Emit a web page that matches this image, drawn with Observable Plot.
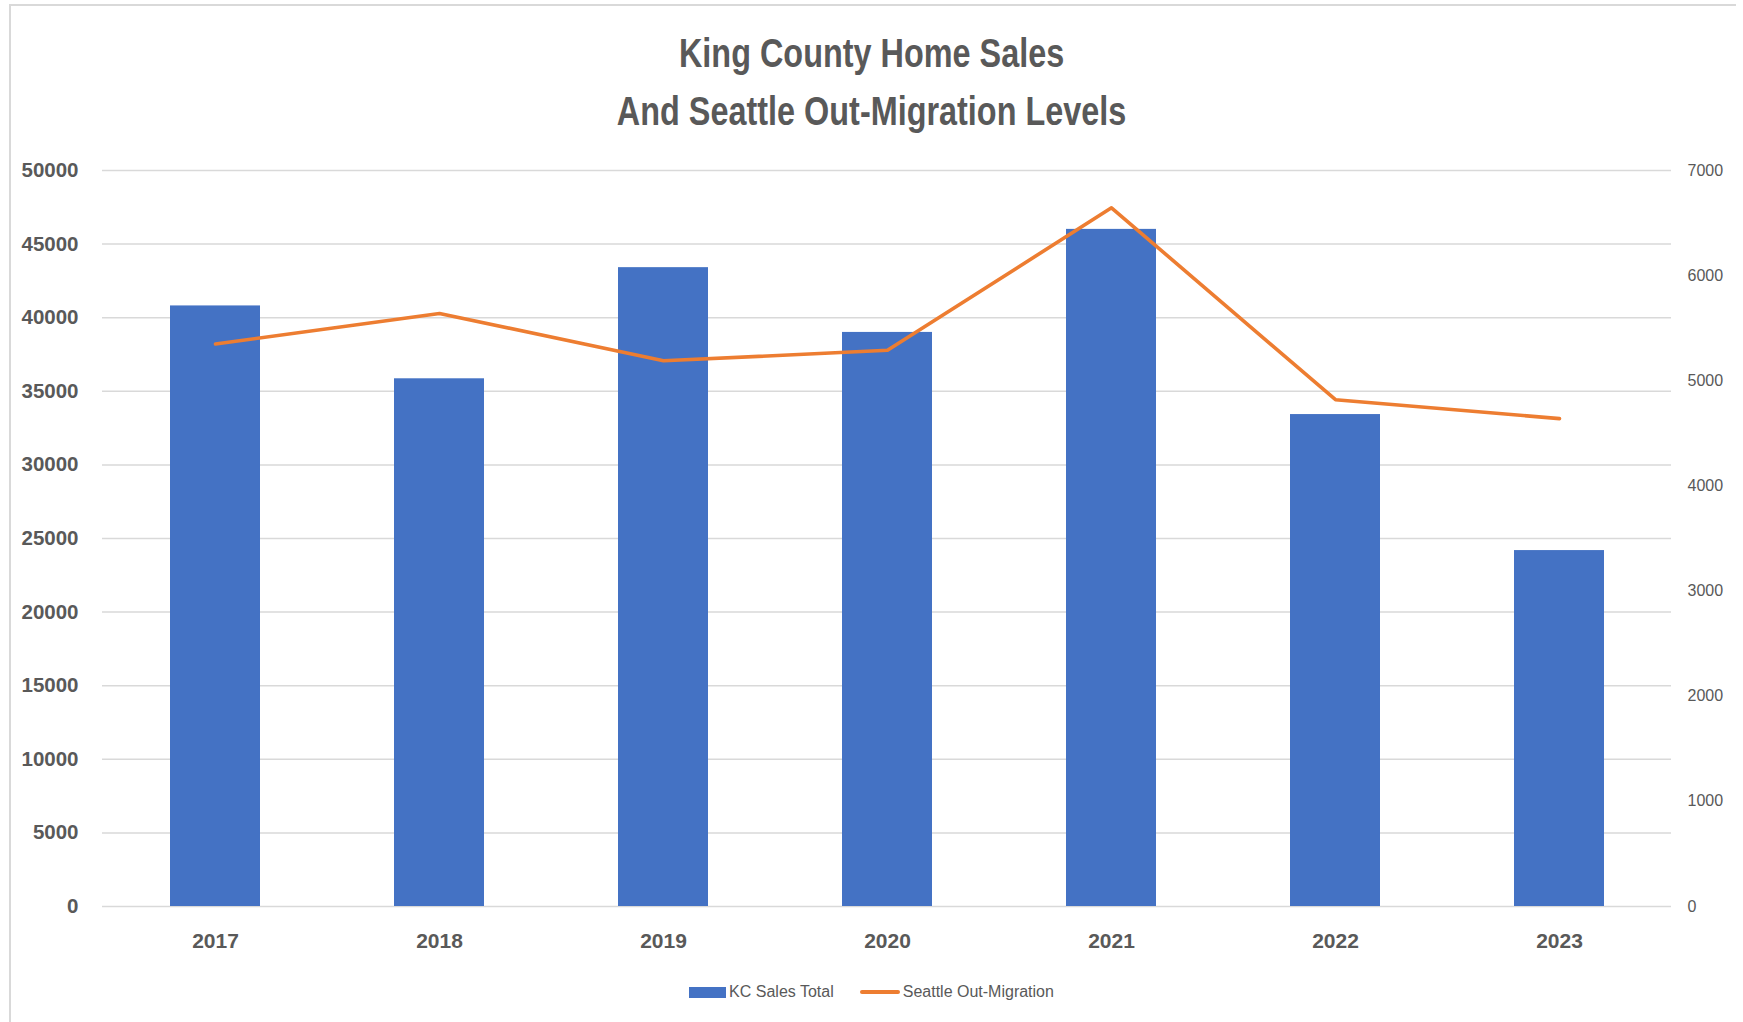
<!DOCTYPE html>
<html>
<head>
<meta charset="utf-8">
<script src="https://cdn.jsdelivr.net/npm/d3@7"></script>
<script src="https://cdn.jsdelivr.net/npm/@observablehq/plot@0.6"></script>
<style>
  html, body { margin: 0; padding: 0; background: #fff; }
  #page { position: relative; width: 1743px; height: 1022px; overflow: hidden; background: #fff; }
  #frameTop { position: absolute; left: 9px; top: 4px; width: 1727px; height: 2px; background: #d9d9d9; }
  #frameLeft { position: absolute; left: 9px; top: 4px; width: 2px; height: 1018px; background: #d9d9d9; }
  #title { position: absolute; left: 0; top: 24px; width: 1743px; text-align: center;
           font-family: "Liberation Sans", Arial, sans-serif; font-weight: bold;
           font-size: 40px; line-height: 58px; color: #595959;
           transform: scaleX(0.81); transform-origin: 872px 0; }
  #chart { position: absolute; left: 0; top: 150px; }
  #legend { position: absolute; left: 0; top: 983px; width: 1743px; display: flex; justify-content: center;
            align-items: center; font-family: "Liberation Sans", Arial, sans-serif; font-size: 16px; color: #595959; }
  .item { display: flex; align-items: center; margin: 0 13px; }
  .sw { display: inline-block; margin-right: 3px; }
</style>
</head>
<body>
<div id="page">
  <div id="frameTop"></div>
  <div id="frameLeft"></div>
  <div id="title">King County Home Sales<br>And Seattle Out-Migration Levels</div>
  <div id="chart"></div>
  <div id="legend">
    <div class="item"><span class="sw" style="width:37px;height:11px;background:#4472C4"></span><span>KC Sales Total</span></div>
    <div class="item"><span class="sw" style="width:40px;height:4px;border-radius:2px;background:#ED7D31"></span><span>Seattle Out-Migration</span></div>
  </div>
</div>
<script>
// Data
const years = ["2017", "2018", "2019", "2020", "2021", "2022", "2023"];
const kcSalesTotal = [40800, 35850, 43400, 39000, 46000, 33420, 24180];
const seattleOutMigration = [5350, 5640, 5190, 5290, 6645, 4820, 4640];
const leftTicks = [0, 5000, 10000, 15000, 20000, 25000, 30000, 35000, 40000, 45000, 50000];
const rightTicks = [0, 1000, 2000, 3000, 4000, 5000, 6000, 7000];
const leftMax = 50000;
const rightMax = 7000;

const rows = years.map((y, i) => ({year: y, sales: kcSalesTotal[i], migration: seattleOutMigration[i]}));
const toLeft = v => v * leftMax / rightMax;

const chart = Plot.plot({
  width: 1743,
  height: 815,
  marginLeft: 102,
  marginRight: 72,
  marginTop: 20,
  marginBottom: 59,
  style: {background: "transparent"},
  x: {domain: years, paddingInner: 0.6, paddingOuter: 0.3, label: null},
  y: {domain: [0, leftMax], label: null},
  marks: [
    Plot.gridY(leftTicks, {stroke: "#d9d9d9", strokeOpacity: 1, strokeWidth: 1.5}),
    Plot.barY(rows, {x: "year", y: "sales", fill: "#4472C4"}),
    Plot.lineY(rows, {x: "year", y: d => toLeft(d.migration), stroke: "#ED7D31", strokeWidth: 3.6, strokeLinejoin: "round"}),
    Plot.axisX({tickSize: 0, tickPadding: 27, fontSize: 21, fontWeight: "bold", fill: "#595959",
                fontFamily: "Liberation Sans, Arial, sans-serif", label: null}),
    Plot.axisY(leftTicks, {anchor: "left", tickSize: 0, tickPadding: 24, fontSize: 20.5, fontWeight: "bold",
                fill: "#595959", fontFamily: "Liberation Sans, Arial, sans-serif", tickFormat: d => String(d), label: null}),
    Plot.axisY(rightTicks.map(toLeft), {anchor: "right", tickSize: 0, tickPadding: 16, fontSize: 16,
                fill: "#595959", fontFamily: "Liberation Sans, Arial, sans-serif",
                tickFormat: d => String(Math.round(d * rightMax / leftMax)), label: null})
  ]
});
document.getElementById("chart").appendChild(chart);
</script>
</body>
</html>
